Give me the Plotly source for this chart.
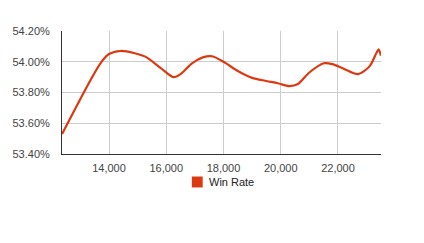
import plotly.graph_objects as go

games = [12360, 13700, 14000, 14400, 14900, 15300, 15800, 16250, 16500, 16900, 17300, 17600,
         18000, 18500, 19000, 19500, 19900, 20300, 20600, 21000, 21500, 21800, 22200, 22700,
         23100, 23350, 23420, 23500]
win_rate = [53.53, 53.99, 54.05, 54.07, 54.055, 54.03, 53.96, 53.90, 53.92, 53.99, 54.03, 54.036,
            54.00, 53.94, 53.895, 53.875, 53.86, 53.842, 53.855, 53.93, 53.99, 53.985, 53.955, 53.92,
            53.97, 54.06, 54.08, 54.04]
x_ticks = [14000, 16000, 18000, 20000, 22000]
x_tick_labels = ["14,000", "16,000", "18,000", "20,000", "22,000"]
y_ticks = [53.4, 53.6, 53.8, 54.0, 54.2]
y_tick_labels = ["53.40%", "53.60%", "53.80%", "54.00%", "54.20%"]
series_name = "Win Rate"
color = "#dc3912"

fig = go.Figure()
fig.add_trace(go.Scatter(x=games, y=win_rate, mode="lines",
                         line=dict(color=color, width=2.2, shape="spline", smoothing=0.8),
                         showlegend=False, hoverinfo="skip"))

font = dict(family="Liberation Sans, Arial, sans-serif", size=11, color="#444444")

# legend (square + label) below the plot
fig.add_shape(type="rect", xref="paper", yref="paper",
              x0=0.407, x1=0.441, y0=-0.183, y1=-0.272,
              fillcolor=color, line=dict(width=0))
fig.add_annotation(text=series_name, xref="paper", yref="paper", x=0.455, y=-0.228,
                   xanchor="left", yanchor="middle", showarrow=False,
                   font=dict(family="Liberation Sans, Arial, sans-serif", size=11, color="#222222"))

fig.update_layout(
    width=424, height=243,
    margin=dict(l=62, r=43, t=31, b=89),
    paper_bgcolor="white", plot_bgcolor="white",
    font=font,
    showlegend=False,
    xaxis=dict(range=[12357, 23503], tickvals=x_ticks, ticktext=x_tick_labels,
               showgrid=True, gridcolor="#cccccc", gridwidth=1,
               showline=True, linecolor="#333333", linewidth=1,
               ticks="outside", ticklen=4, tickcolor="rgba(0,0,0,0)",
               zeroline=False, fixedrange=True),
    yaxis=dict(range=[53.4, 54.2], tickvals=y_ticks, ticktext=y_tick_labels,
               showgrid=True, gridcolor="#cccccc", gridwidth=1,
               showline=True, linecolor="#333333", linewidth=1,
               ticks="outside", ticklen=9, tickcolor="rgba(0,0,0,0)",
               zeroline=False, fixedrange=True),
)
fig.write_html("out.html", config={"displayModeBar": False})
